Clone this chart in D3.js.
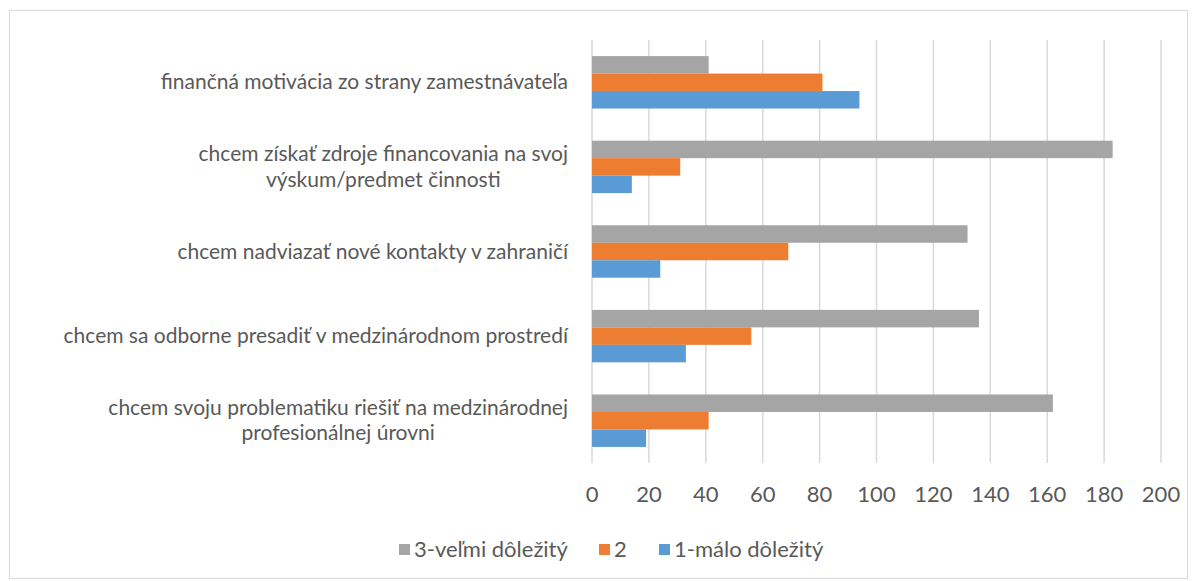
<!DOCTYPE html>
<html>
<head>
<meta charset="utf-8">
<script src="https://cdn.jsdelivr.net/npm/d3@7"></script>
<style>
  body { margin: 0; background: #fff; }
  text { font-family: Lato, "Open Sans", sans-serif; fill: #595959; }
</style>
</head>
<body>
<div id="chart"></div>
<script>
// categories, top to bottom
var categories = [
  "finančná motivácia zo strany zamestnávateľa",
  "chcem získať zdroje financovania na svoj\nvýskum/predmet činnosti",
  "chcem nadviazať nové kontakty v zahraničí",
  "chcem sa odborne presadiť v medzinárodnom prostredí",
  "chcem svoju problematiku riešiť na medzinárodnej\nprofesionálnej úrovni"
];
var seriesNames = ["3-veľmi dôležitý", "2", "1-málo dôležitý"];
var seriesColors = ["#A5A5A5", "#ED7D31", "#5B9BD5"];
var veryImportant = [41, 183, 132, 136, 162];
var medium = [81, 31, 69, 56, 41];
var lowImportant = [94, 14, 24, 33, 19];
var xTicks = [0, 20, 40, 60, 80, 100, 120, 140, 160, 180, 200];

var seriesValues = [veryImportant, medium, lowImportant];

var W = 1196, H = 581;
var margin = {top: 40, left: 592, right: 35, bottom: 118};
var width = W - margin.left - margin.right,
    height = H - margin.top - margin.bottom;

var svg = d3.select("#chart").append("svg")
  .attr("width", W).attr("height", H);

// outer border
svg.append("rect")
  .attr("x", 9.5).attr("y", 10.5)
  .attr("width", 1178).attr("height", 568)
  .attr("fill", "none").attr("stroke", "#D9D9D9");

var g = svg.append("g")
  .attr("transform", "translate(" + margin.left + "," + margin.top + ")");

var x = d3.scaleLinear().domain([0, 200]).range([0, width]);
var y = d3.scaleBand().domain(d3.range(categories.length)).range([0, height]).paddingInner(0.38).paddingOuter(0.19);
var ySub = d3.scaleBand().domain(d3.range(seriesNames.length)).range([0, y.bandwidth()]);

// gridlines
g.selectAll(".grid")
  .data(xTicks)
  .enter().append("line")
    .attr("x1", function(d) { return x(d); })
    .attr("x2", function(d) { return x(d); })
    .attr("y1", 0).attr("y2", height)
    .attr("stroke", "#D9D9D9").attr("stroke-width", 1.5);

// x tick labels
g.selectAll(".xlab")
  .data(xTicks)
  .enter().append("text")
    .attr("x", function(d) { return x(d); })
    .attr("y", height + 39)
    .attr("text-anchor", "middle")
    .style("font-size", "22px")
    .text(function(d) { return d; });

// bars
seriesValues.forEach(function(vals, s) {
  g.selectAll(".bar" + s)
    .data(vals)
    .enter().append("rect")
      .attr("x", x(0))
      .attr("y", function(d, i) { return y(i) + ySub(s); })
      .attr("width", function(d) { return x(d) - x(0); })
      .attr("height", ySub.bandwidth())
      .attr("fill", seriesColors[s]);
});

// category labels (each line its own text so boxes don't overlap)
categories.forEach(function(c, i) {
  var lines = c.split("\n");
  var cy = y(i) + y.bandwidth() / 2;
  var texts = [];
  lines.forEach(function(l, k) {
    texts.push(g.append("text")
      .attr("text-anchor", "middle")
      .attr("y", cy + (k - (lines.length - 1) / 2) * 25.5 + 7)
      .style("font-size", "21px")
      .text(l));
  });
  // center lines on the widest one, block right-aligned
  var maxW = d3.max(texts, function(t) { return t.node().getComputedTextLength(); });
  texts.forEach(function(t) { t.attr("x", -24 - maxW / 2); });
});

// legend
var legendX = [399, 599, 659];
var legend = svg.append("g");
seriesNames.forEach(function(n, s) {
  legend.append("rect")
    .attr("x", legendX[s]).attr("y", 544)
    .attr("width", 11).attr("height", 11)
    .attr("fill", seriesColors[s]);
  legend.append("text")
    .attr("x", legendX[s] + 15).attr("y", 557)
    .style("font-size", "22px")
    .text(n);
});
</script>
</body>
</html>
